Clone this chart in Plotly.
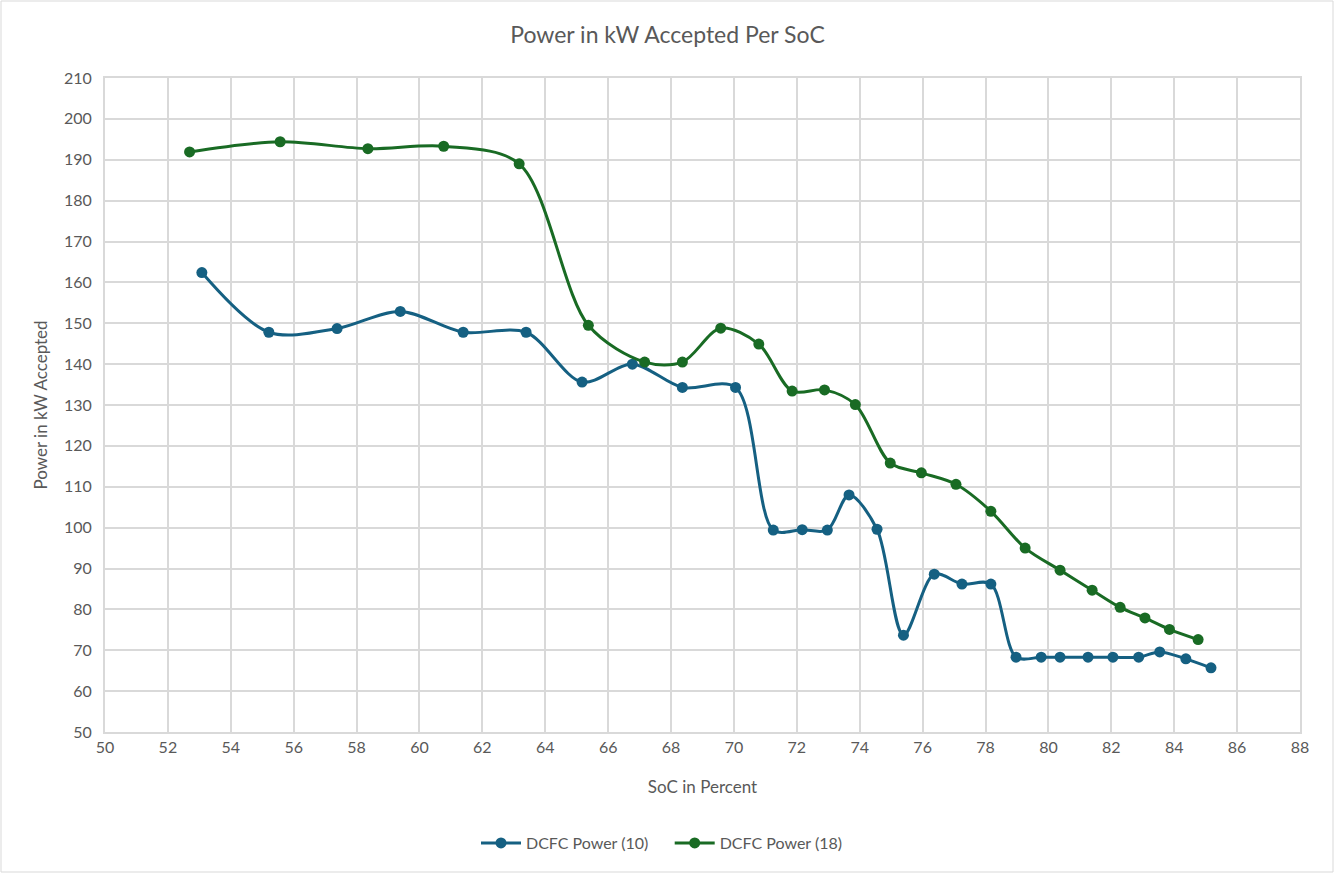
import plotly.graph_objects as go

soc_10 = [53.08, 55.21, 57.38, 59.39, 61.39, 63.39, 65.17, 66.77, 68.36, 70.05,
          71.25, 72.17, 72.97, 73.66, 74.55, 75.39, 76.37, 77.25, 78.17, 78.97,
          79.77, 80.37, 81.26, 82.05, 82.87, 83.54, 84.37, 85.17]
power_10 = [162.4, 147.8, 148.7, 152.9, 147.8, 147.8, 135.6, 140.0, 134.3, 134.3,
            99.4, 99.5, 99.4, 108.0, 99.6, 73.7, 88.6, 86.2, 86.2, 68.3,
            68.3, 68.3, 68.3, 68.3, 68.3, 69.6, 67.9, 65.7]

soc_18 = [52.69, 55.57, 58.36, 60.77, 63.17, 65.37, 67.16, 68.36, 69.58, 70.79,
          71.85, 72.88, 73.86, 74.97, 75.96, 77.06, 78.17, 79.26, 80.37, 81.39,
          82.28, 83.07, 83.85, 84.76]
power_18 = [191.9, 194.4, 192.7, 193.3, 189.0, 149.5, 140.5, 140.5, 148.8, 144.9,
            133.4, 133.7, 130.1, 115.8, 113.4, 110.6, 104.0, 95.0, 89.6, 84.7,
            80.5, 77.9, 75.1, 72.6]

names = ["DCFC Power (10)", "DCFC Power (18)"]
colors = ["#156082", "#196B24"]

FONT = "Lato"
GRAY = "#595959"
GRID = "#d9d9d9"

fig = go.Figure()
for xs, ys, name, c in [(soc_10, power_10, names[0], colors[0]),
                        (soc_18, power_18, names[1], colors[1])]:
    fig.add_trace(go.Scatter(
        x=xs, y=ys, name=name + "    ", mode="lines+markers",
        line=dict(color=c, width=3, shape="spline", smoothing=0.9),
        marker=dict(color=c, size=11),
    ))

L, R, T, B = 105, 35, 78, 142
W, H = 1335, 874
pw, ph = W - L - R, H - T - B

fig.update_layout(
    width=W, height=H,
    margin=dict(l=L, r=R, t=T, b=B),
    paper_bgcolor="white", plot_bgcolor="white",
    font=dict(family=FONT, color=GRAY, size=16),
    title=dict(text="Power in kW Accepted Per SoC", x=0.5, xanchor="center",
               y=1 - 35 / H, yanchor="middle",
               font=dict(size=23, color=GRAY, family=FONT)),
    xaxis=dict(range=[50, 88], dtick=2, tick0=50, showgrid=True, gridcolor=GRID,
               gridwidth=1.5, showline=True, linecolor=GRID, linewidth=1.5, mirror=True,
               zeroline=False, ticks="", tickfont=dict(size=16, color=GRAY),
               title=dict(text="SoC in Percent", font=dict(size=17, color=GRAY),
                          standoff=26)),
    yaxis=dict(range=[50, 210], dtick=10, tick0=50, showgrid=True, gridcolor=GRID,
               gridwidth=1.5, showline=True, linecolor=GRID, linewidth=1.5, mirror=True,
               zeroline=False, ticks="", ticksuffix="  ", tickfont=dict(size=16, color=GRAY),
               title=dict(text="Power in kW Accepted", font=dict(size=17, color=GRAY),
                          standoff=12)),
    legend=dict(orientation="h", x=(670 - L) / pw, xanchor="center", y=(T + ph - 843) / ph,
                yanchor="middle", font=dict(size=16, color=GRAY), itemwidth=40),
    showlegend=True,
)

# chart border
fig.add_shape(type="rect", xref="paper", yref="paper",
              x0=(1 - L) / pw, x1=(W - 2 - L) / pw,
              y0=(T + ph - (H - 2)) / ph, y1=(T + ph - 1) / ph,
              line=dict(color="#d9d9d9", width=1), layer="below")

fig.write_html("out.html")
